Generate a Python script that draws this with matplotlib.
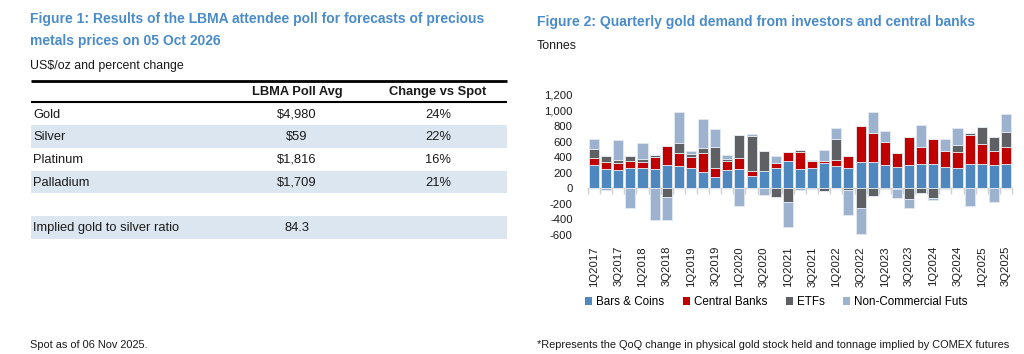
import matplotlib
matplotlib.use("Agg")
import matplotlib.pyplot as plt
from matplotlib.patches import Rectangle, Patch
import numpy as np

plt.rcParams['font.family'] = ['Liberation Sans Narrow', 'Liberation Sans', 'DejaVu Sans']

# ---------------- Data ----------------
table_cols = ["LBMA Poll Avg", "Change vs Spot"]
metals = ["Gold", "Silver", "Platinum", "Palladium"]
poll_avg = ["$4,980", "$59", "$1,816", "$1,709"]
chg_vs_spot = ["24%", "22%", "16%", "21%"]
ratio_label = "Implied gold to silver ratio"
ratio_value = "84.3"

quarters = [f"{q}Q{y}" for y in range(2017, 2026) for q in range(1, 5)][:35]
bars_coins = [300, 244, 231, 257, 261, 244, 300, 287, 257, 214, 146, 240, 253, 159, 223, 266, 356, 249,
              257, 326, 283, 257, 343, 334, 304, 274, 296, 309, 313, 270, 266, 317, 317, 304, 309]
central_banks = [94, 99, 90, 99, 82, 155, 240, 172, 150, 236, 115, 116, 141, 64, 0, 64, 115, 214,
                 90, 30, 77, 163, 463, 382, 287, 176, 364, 218, 317, 214, 201, 373, 249, 172, 227]
etfs = [116, 68, 39, 64, 30, 30, -111, 124, 39, 73, 270, 21, 287, 450, 261, -111, -171, 26,
        -10, -34, 270, -26, -257, -94, -10, -5, -141, -64, -129, -7, 90, 21, 218, 180, 188]
non_comm_futs = [124, -26, 257, -249, 214, -403, -300, 403, 30, 368, 236, 56, -223, 26, -86, 81, -322, -15,
                 22, 141, 141, -317, -334, 270, 142, -115, -116, 292, -17, 146, 223, -223, 9, -180, 227]
series_names = ["Bars & Coins", "Central Banks", "ETFs", "Non-Commercial Futs"]
series_colors = ["#4F88BF", "#C00000", "#5E6064", "#9CB2CE"]
yticks = [-600, -400, -200, 0, 200, 400, 600, 800, 1000, 1200]

W, H = 1024, 354
fig = plt.figure(figsize=(W / 100, H / 100), dpi=100)

# overlay axes in pixel coordinates for text and table
ov = fig.add_axes([0, 0, 1, 1])
ov.set_xlim(0, W)
ov.set_ylim(H, 0)
ov.axis('off')

title_color = "#4A8CC9"
txt = "#1a1a1a"
title_fs = 10.0
body_fs = 8.9
table_fs = 9.3
note_fs = 7.9

ov.text(30, 19, "Figure 1: Results of the LBMA attendee poll for forecasts of precious",
        color=title_color, fontsize=title_fs, fontweight='bold', va='center', ha='left')
ov.text(30, 41, "metals prices on 05 Oct 2026",
        color=title_color, fontsize=title_fs, fontweight='bold', va='center', ha='left')
ov.text(30, 66, "US$/oz and percent change", color=txt, fontsize=body_fs, va='center', ha='left')

# table
tx0, tx1 = 31, 507
col1_x, col2_x = 297, 438
row_bands = [(103, 125), (125, 148), (148, 171), (171, 193), (193, 216), (216, 239)]
band_color = "#DCE6F1"
for i, (y0, y1) in enumerate(row_bands):
    if i in (1, 3, 5):
        ov.add_patch(Rectangle((tx0, y0), tx1 - tx0, y1 - y0, facecolor=band_color, edgecolor='none'))
ov.plot([tx0, tx1], [81, 81], color='black', lw=2.0, solid_capstyle='butt')
ov.plot([tx0, tx1], [102, 102], color='black', lw=1.5, solid_capstyle='butt')
ov.text(col1_x, 92, table_cols[0], fontsize=table_fs, fontweight='bold', ha='center', va='center', color=txt)
ov.text(col2_x, 92, table_cols[1], fontsize=table_fs, fontweight='bold', ha='center', va='center', color=txt)
for i, m in enumerate(metals):
    y0, y1 = row_bands[i]
    yc = (y0 + y1) / 2 + 0.5
    ov.text(33, yc, m, fontsize=table_fs, ha='left', va='center', color=txt)
    ov.text(col1_x, yc, poll_avg[i], fontsize=table_fs, ha='center', va='center', color=txt)
    ov.text(col2_x, yc, chg_vs_spot[i], fontsize=table_fs, ha='center', va='center', color=txt)
y0, y1 = row_bands[5]
ov.text(33, (y0 + y1) / 2 + 0.5, ratio_label, fontsize=table_fs, ha='left', va='center', color=txt)
ov.text(col1_x, (y0 + y1) / 2 + 0.5, ratio_value, fontsize=table_fs, ha='center', va='center', color=txt)

ov.text(30, 345, "Spot as of 06 Nov 2025.", fontsize=note_fs, ha='left', va='center', color=txt)

# right panel texts
ov.text(537, 22, "Figure 2: Quarterly gold demand from investors and central banks",
        color=title_color, fontsize=title_fs, fontweight='bold', va='center', ha='left')
ov.text(537, 46, "Tonnes", fontsize=body_fs, color=txt, va='center', ha='left')
ov.text(537, 345, "*Represents the QoQ change in physical gold stock held and tonnage implied by COMEX futures",
        fontsize=note_fs, ha='left', va='center', color=txt)

# ---------------- Bar chart ----------------
ax_l, ax_r, ax_t, ax_b = 588, 1012, 95, 235
ax = fig.add_axes([ax_l / W, 1 - ax_b / H, (ax_r - ax_l) / W, (ax_b - ax_t) / H])
x = np.arange(len(quarters))
data = [np.array(s, dtype=float) for s in (bars_coins, central_banks, etfs, non_comm_futs)]
pos_base = np.zeros(len(x))
neg_base = np.zeros(len(x))
bw = 0.83
for vals, col, name in zip(data, series_colors, series_names):
    pos = np.where(vals > 0, vals, 0)
    neg = np.where(vals < 0, vals, 0)
    ax.bar(x, pos, bw, bottom=pos_base, color=col, edgecolor='#E3E9F0', linewidth=0.6, label=name)
    ax.bar(x, neg, bw, bottom=neg_base, color=col, edgecolor='#E3E9F0', linewidth=0.6)
    pos_base += pos
    neg_base += neg

ax.set_xlim(-0.5, len(x) - 0.5)
ax.set_ylim(-600, 1200)
ax.set_yticks(yticks)
ax.set_yticklabels([f"{v:,}" for v in yticks])
ax.tick_params(axis='y', length=0, pad=11, labelsize=8.1, labelcolor=txt)
ax.set_xticks(x[::2])
ax.set_xticklabels(quarters[::2], rotation=90)
ax.tick_params(axis='x', length=0, pad=8, labelsize=8.1, labelcolor=txt)
for s in ax.spines.values():
    s.set_visible(False)
ax.set_facecolor('none')

sec = ax.secondary_xaxis(600 / 1800)
sec.spines['bottom'].set_color('#D0D0D0')
sec.spines['bottom'].set_linewidth(1.0)
sec.set_xticks(np.arange(-0.5, len(x), 1.0))
sec.set_xticklabels([])
sec.tick_params(axis='x', length=4, color='#D0D0D0', width=1.0, direction='out')

handles = [Patch(facecolor=c, edgecolor='none', label=n) for c, n in zip(series_colors, series_names)]
fig.legend(handles=handles, loc='center left', bbox_to_anchor=(585 / W, 1 - 302 / H), ncol=4,
           frameon=False, fontsize=8.4, handlelength=0.6, handleheight=0.6, handletextpad=0.34,
           columnspacing=1.6, borderaxespad=0, borderpad=0)

fig.savefig("out.png", dpi=100)
